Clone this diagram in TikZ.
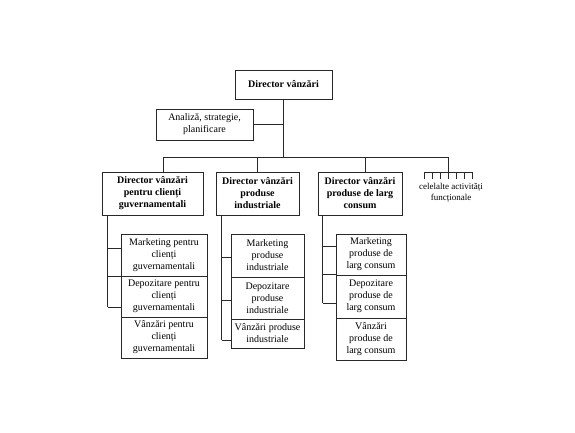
\documentclass[tikz,border=0pt]{standalone}
\usepackage{fontspec}
\setmainfont{Liberation Serif}
\usetikzlibrary{positioning,calc}
\definecolor{orgline}{RGB}{40,40,40}
\tikzset{
  orgbox/.style={draw=orgline, line width=0.6pt, align=center, inner sep=1pt, font=\fontsize{10}{12}\selectfont},
  orghead/.style={orgbox, font=\fontsize{10}{12}\selectfont\bfseries},
  orglink/.style={draw=orgline, line width=0.6pt},
}
\begin{document}
\begin{tikzpicture}[x=1pt,y=-1pt]
  \useasboundingbox (0,0) rectangle (575,432);

  % Top level
  \node[orghead, minimum width=97pt, minimum height=29pt] (dir) at (283.5,84.5) {Director vânzări};
  \node[orgbox, minimum width=97pt, minimum height=31pt] (anl) at (204.5,124.5) {Analiză, strategie,\\planificare};
  \coordinate (hub) at (283,157);
  \draw[orglink] (dir.south -| hub) -- (hub);
  \draw[orglink] (anl.east) -- (anl.east -| hub);

  % Second level
  \node[orghead, minimum width=101pt, minimum height=43pt] (gov) at (152.5,193.5) {Director vânzări\\pentru clienți\\guvernamentali};
  \node[orghead, minimum width=83pt, minimum height=43pt] (ind) at (257.5,193.5) {Director vânzări\\produse\\industriale};
  \node[orghead, minimum width=84pt, minimum height=43pt] (lrg) at (360,193.5) {Director vânzări\\produse de larg\\consum};
  \coordinate (oth) at (448,172);
  \draw[orglink] ([xshift=10.5pt]gov.north) |- (oth |- hub) -- (oth);
  \draw[orglink] (ind.north) -- (ind.north |- hub);
  \draw[orglink] ([xshift=5pt]lrg.north) -- ([xshift=5pt]lrg.north |- hub);

  % Other functions
  \draw[orglink] (424,172) -- (472,172);
  \foreach \x in {424,432,440,448,456,464,472}
    \draw[orglink] (\x,172) -- (\x,179);
  \node[font=\fontsize{9}{11}\selectfont, align=center] (othtxt) at (451,193) {celelalte activități\\funcționale};

  % Government clients column
  \node[orgbox, minimum width=86pt, minimum height=42pt] (govmk) at (164,255) {Marketing pentru\\clienți\\guvernamentali};
  \node[orgbox, minimum width=86pt, minimum height=41pt] (govdp) at (164,296.5) {Depozitare pentru\\clienți\\guvernamentali};
  \node[orgbox, minimum width=86pt, minimum height=41pt] (govvz) at (164,337.5) {Vânzări pentru\\clienți\\guvernamentali};
  \coordinate (govv) at ([xshift=6pt]gov.south west);
  \draw[orglink] (govv) -- (govv |- 0,307);
  \foreach \y in {248,276,307}
    \draw[orglink] (govv |- 0,\y) -- (govmk.west |- 0,\y);

  % Industrial products column
  \node[orgbox, minimum width=73pt, minimum height=43pt] (indmk) at (267.5,255.5) {Marketing\\produse\\industriale};
  \node[orgbox, minimum width=73pt, minimum height=42pt] (inddp) at (267.5,298) {Depozitare\\produse\\industriale};
  \node[orgbox, minimum width=73pt, minimum height=29pt] (indvz) at (267.5,333.5) {Vânzări produse\\industriale};
  \coordinate (indv) at ([xshift=6pt]ind.south west);
  \draw[orglink] (indv) -- (indv |- 0,340);
  \foreach \y in {257,300,340}
    \draw[orglink] (indv |- 0,\y) -- (indmk.west |- 0,\y);

  % Consumer goods column
  \node[orgbox, minimum width=70pt, minimum height=41pt] (lrgmk) at (371,254.5) {Marketing\\produse de\\larg consum};
  \node[orgbox, minimum width=70pt, minimum height=43pt] (lrgdp) at (371,296.5) {Depozitare\\produse de\\larg consum};
  \node[orgbox, minimum width=70pt, minimum height=42pt] (lrgvz) at (371,339) {Vânzări\\produse de\\larg consum};
  \coordinate (lrgv) at ([xshift=5pt]lrg.south west);
  \draw[orglink] (lrgv) -- (lrgv |- 0,303);
  \foreach \y in {246,274,303}
    \draw[orglink] (lrgv |- 0,\y) -- (lrgmk.west |- 0,\y);
\end{tikzpicture}
\end{document}
